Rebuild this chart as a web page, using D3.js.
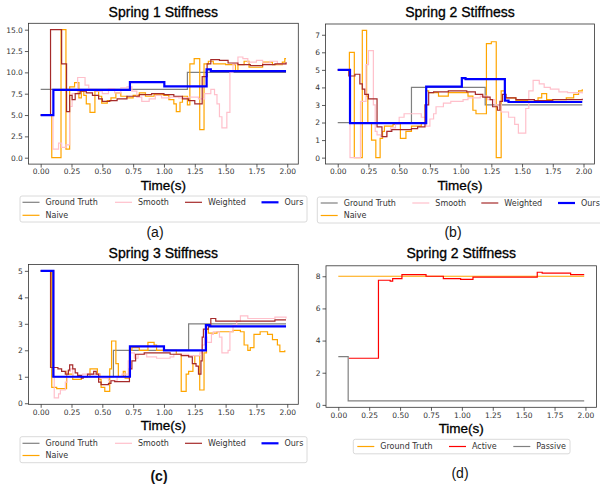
<!DOCTYPE html>
<html>
<head>
<meta charset="utf-8">
<script src="https://cdn.jsdelivr.net/npm/d3@7/dist/d3.min.js"></script>
<style>
  body { margin: 0; background: #fff; }
  text { font-family: "DejaVu Sans", sans-serif; }
</style>
</head>
<body>
<svg id="fig" width="600" height="487"></svg>
<script>

// ---- data: [time (s), stiffness] step points ----
var timeTicks = [0, 0.25, 0.5, 0.75, 1.0, 1.25, 1.5, 1.75, 2.0];

// Spring 1
var s1GT = [[0,8],[1.19,10],[1.99,10]];
var s1Naive = [[0,5],[0.09,0],[0.165,15],[0.205,1.0],[0.235,8.3],[0.275,8.8],[0.31,7.0],[0.33,7.8],[0.35,7.3],
  [0.37,6.3],[0.4,5.3],[0.44,7.8],[0.47,7.2],[0.495,6.4],[0.54,6.7],[0.57,7.0],[0.61,7.6],[0.65,7.2],[0.7,7.0],
  [0.75,7.3],[0.8,7.6],[0.85,7.2],[0.92,7.4],[1.0,7.3],[1.04,6.8],[1.08,6.3],[1.1,5.4],[1.13,6.5],[1.15,7.2],
  [1.19,6.2],[1.21,11.0],[1.245,11.6],[1.29,3.3],[1.325,11.0],[1.36,11.3],[1.4,11.0],[1.5,10.9],[1.58,10.2],
  [1.6,10.9],[1.65,11.3],[1.69,10.6],[1.8,11.2],[1.88,10.9],[1.96,11.2],[1.98,11.6],[1.99,11.6]];
var s1Smooth = [[0,5],[0.1,1.0],[0.145,1.7],[0.17,1.2],[0.205,1.5],[0.235,6.0],[0.255,7.5],[0.3,9.4],[0.36,8.5],
  [0.39,8.0],[0.45,7.8],[0.5,7.5],[0.55,8.1],[0.6,7.6],[0.65,8.2],[0.7,8.3],[0.74,7.8],[0.78,7.1],[0.82,6.6],
  [0.88,6.9],[0.93,7.3],[0.98,7.0],[1.05,7.1],[1.12,7.0],[1.2,7.1],[1.28,6.9],[1.33,7.5],[1.38,8.0],[1.41,7.4],
  [1.43,6.3],[1.45,4.8],[1.47,3.5],[1.51,5.3],[1.535,10.0],[1.56,11.0],[1.6,11.8],[1.64,11.6],[1.68,11.2],
  [1.75,11.4],[1.8,11.1],[1.86,11.3],[1.92,11.0],[1.99,11.2]];
var s1Weighted = [[0,5],[0.08,15],[0.17,11.0],[0.21,5.4],[0.235,7.3],[0.255,6.8],[0.28,7.5],[0.32,7.8],[0.37,7.6],
  [0.42,7.3],[0.47,6.9],[0.5,6.6],[0.56,6.7],[0.62,6.9],[0.7,7.2],[0.8,7.4],[0.9,7.5],[1.0,7.4],[1.08,7.2],
  [1.15,6.9],[1.2,6.7],[1.25,6.3],[1.31,9.5],[1.35,11.0],[1.38,11.5],[1.45,11.4],[1.52,11.1],[1.6,10.9],
  [1.7,10.8],[1.8,10.9],[1.9,11.0],[1.99,11.2]];
var s1Ours = [[0,5],[0.103,7.95],[0.724,8.85],[1.003,8.35],[1.346,10.35],[1.38,10.15],[1.99,10.15]];

// Spring 2
var s2GT = [[0,2],[0.6,4],[1.2,3],[1.99,3]];
var s2Naive = [[0,5],[0.095,6.0],[0.135,0],[0.2,7.25],[0.235,3.5],[0.245,2.0],[0.275,1.0],[0.31,0],[0.345,1.1],
  [0.365,1.5],[0.38,1.8],[0.45,1.9],[0.51,1.1],[0.555,1.5],[0.6,1.8],[0.68,1.95],[0.72,3.8],[0.74,3.7],[0.82,3.5],
  [0.9,3.7],[1.06,3.5],[1.1,2.7],[1.125,2.5],[1.21,6.5],[1.25,6.6],[1.29,0],[1.33,3.8],[1.36,3.4],[1.45,3.25],
  [1.55,3.2],[1.63,3.4],[1.66,3.65],[1.7,3.3],[1.86,3.4],[1.92,3.6],[1.96,3.8],[1.99,3.9]];
var s2Smooth = [[0,5],[0.1,0],[0.185,3.2],[0.23,5.3],[0.25,6.1],[0.29,3.0],[0.305,1.5],[0.32,1.3],[0.35,1.2],
  [0.4,1.5],[0.43,1.7],[0.47,1.9],[0.5,2.3],[0.54,2.5],[0.68,2.3],[0.72,1.8],[0.75,2.2],[0.78,2.5],[0.8,2.9],
  [0.86,3.1],[0.92,3.2],[1.02,3.3],[1.06,3.4],[1.16,3.5],[1.22,3.3],[1.28,3.0],[1.33,2.6],[1.39,2.3],[1.44,1.9],
  [1.47,1.4],[1.53,2.8],[1.555,3.8],[1.59,4.4],[1.64,4.2],[1.68,4.0],[1.73,3.9],[1.8,3.75],[1.87,3.7],[1.99,3.65]];
var s2Weighted = [[0,5],[0.09,4.65],[0.14,4.75],[0.18,4.2],[0.2,3.9],[0.22,3.6],[0.25,3.35],[0.32,1.75],[0.36,1.2],
  [0.4,1.5],[0.44,1.6],[0.6,1.65],[0.65,1.75],[0.71,3.0],[0.74,3.7],[0.78,3.75],[0.9,3.8],[1.05,3.75],[1.12,3.6],
  [1.18,3.45],[1.24,3.3],[1.26,2.9],[1.3,2.7],[1.32,3.2],[1.34,3.6],[1.37,3.4],[1.45,3.3],[1.6,3.25],[1.75,3.3],
  [1.9,3.3],[1.99,3.35]];
var s2Ours = [[0,5],[0.1,1.97],[0.72,4.05],[1.01,4.53],[1.04,4.47],[1.36,3.25],[1.39,3.17],[1.99,3.17]];

// Spring 3
var s3GT = [[0,5],[0.09,1],[0.59,2],[1.2,3],[1.99,3]];
var s3Naive = [[0,5],[0.09,0.6],[0.13,0.55],[0.21,1.2],[0.225,1.1],[0.26,0.9],[0.33,1.0],[0.4,1.3],[0.46,1.1],
  [0.48,0.9],[0.49,0.6],[0.52,0.45],[0.56,1.3],[0.575,2.35],[0.61,1.5],[0.63,1.0],[0.67,1.2],[0.685,0.95],
  [0.72,2.0],[0.74,2.1],[0.8,2.0],[0.87,2.3],[0.92,2.2],[0.94,2.0],[1.1,1.85],[1.14,0.45],[1.18,1.1],[1.2,1.2],
  [1.235,1.5],[1.25,1.8],[1.29,0.5],[1.325,1.9],[1.345,2.8],[1.36,2.65],[1.43,2.7],[1.56,2.75],[1.62,2.7],
  [1.65,2.2],[1.68,2.0],[1.7,2.1],[1.73,2.6],[1.78,2.7],[1.84,2.6],[1.88,2.4],[1.92,2.2],[1.94,1.95],[1.98,2.0]];
var s3Smooth = [[0,5],[0.11,0.2],[0.145,0.35],[0.16,0.5],[0.2,0.8],[0.215,1.2],[0.24,1.3],[0.26,1.0],[0.34,1.1],
  [0.48,0.95],[0.55,0.85],[0.62,1.0],[0.66,1.1],[0.71,1.6],[0.725,1.9],[0.76,1.7],[0.79,1.85],[0.86,1.75],
  [0.94,1.7],[1.05,1.75],[1.08,1.85],[1.2,1.8],[1.29,1.9],[1.31,2.2],[1.33,2.5],[1.35,2.3],[1.385,2.6],[1.4,2.7],
  [1.45,2.5],[1.47,1.9],[1.52,2.0],[1.535,2.7],[1.56,2.95],[1.59,3.1],[1.62,3.3],[1.68,3.2],[1.8,3.2],[1.9,3.25],
  [1.99,3.2]];
var s3Weighted = [[0,5],[0.08,1.35],[0.14,1.3],[0.17,1.2],[0.2,1.1],[0.225,1.25],[0.235,1.45],[0.26,1.3],
  [0.28,1.15],[0.3,1.05],[0.33,0.95],[0.345,1.0],[0.38,1.1],[0.43,1.2],[0.45,1.1],[0.47,0.8],[0.49,0.7],
  [0.55,0.75],[0.57,0.85],[0.6,0.82],[0.72,1.3],[0.74,1.6],[0.77,1.85],[0.84,1.9],[1.0,1.9],[1.05,1.85],
  [1.14,1.8],[1.2,1.75],[1.23,1.5],[1.26,1.4],[1.28,1.1],[1.3,1.6],[1.31,2.5],[1.32,2.8],[1.36,2.9],[1.38,3.2],
  [1.42,3.1],[1.6,3.1],[1.75,3.1],[1.9,3.15],[1.99,3.15]];
var s3Ours = [[0,5],[0.103,1],[0.724,2.15],[1.0,2.0],[1.34,2.95],[1.37,2.9],[1.99,2.9]];

// Spring 2, active vs passive
var dGT = [[0,8],[1.99,8]];
var dActive = [[0.085,2.9],[0.325,7.75],[0.42,7.7],[0.44,7.85],[0.515,8.1],[0.71,8.0],[0.85,7.85],[0.99,7.8],
  [1.09,7.95],[1.61,8.25],[1.65,8.2],[1.88,8.1],[1.99,8.1]];
var dPassive = [[0,3],[0.08,0.25],[1.99,0.25]];

var methodNames = ["Ground Truth", "Naive", "Smooth", "Weighted", "Ours"];
var methodColors = ["#808080", "#ffa500", "#ffc0cb", "#a52a2a", "#0000ff"];
var methodWidths = [1.2, 1.2, 1.2, 1.2, 2.2];
// matplotlib ncol=4 with 5 entries -> column-major slots
var methodSlots = [[0,0],[0,1],[1,0],[2,0],[3,0]];

function methodSeries(list) {
    return list.map(function(d, i) {
        return {name: methodNames[i], data: d, color: methodColors[i], width: methodWidths[i], slot: methodSlots[i]};
    });
}

var panels = [
    {title: "Spring 1 Stiffness", label: "(a)", box: [28.4, 298.3, 23.3, 164.1],
     yTicks: d3.range(0, 15.01, 2.5), yFmt: d3.format(".1f"),
     series: methodSeries([s1GT, s1Naive, s1Smooth, s1Weighted, s1Ours]),
     titleY: 17, xlabY: 189.5, labX: 155, labY: 237, labBold: false,
     legend: {x: 20, y: 196, w: 287, h: 26, cols: [2.5, 95, 165, 241.5], rows: [202.3, 215.3]}},
    {title: "Spring 2 Stiffness", label: "(b)", box: [325.5, 594.5, 24, 164],
     yTicks: d3.range(0, 7.01, 1), yFmt: d3.format("d"),
     series: methodSeries([s2GT, s2Naive, s2Smooth, s2Weighted, s2Ours]),
     titleY: 17, xlabY: 189.5, labX: 453, labY: 237, labBold: false,
     legend: {x: 317.3, y: 197, w: 287, h: 26, cols: [3.4, 95, 164, 240.7], rows: [203, 215.5]}},
    {title: "Spring 3 Stiffness", label: "(c)", box: [28.4, 298.3, 264.5, 404.3],
     yTicks: d3.range(0, 5.01, 1), yFmt: d3.format("d"),
     series: methodSeries([s3GT, s3Naive, s3Smooth, s3Weighted, s3Ours]),
     titleY: 257.5, xlabY: 430, labX: 159, labY: 481, labBold: true,
     legend: {x: 20, y: 436.7, w: 287, h: 26, cols: [2.5, 95, 165, 241.5], rows: [443.3, 455.5]}},
    {title: "Spring 2 Stiffness", label: "(d)", box: [326, 596.5, 265.8, 407.3],
     yTicks: d3.range(0, 8.01, 2), yFmt: d3.format("d"),
     series: [
        {name: "Ground Truth", data: dGT, color: "#ffa500", width: 1.2, slot: [0,0]},
        {name: "Active", data: dActive, color: "#ff0000", width: 1.2, slot: [1,0]},
        {name: "Passive", data: dPassive, color: "#808080", width: 1.2, slot: [2,0]}],
     titleY: 257.5, xlabY: 433, labX: 460, labY: 478, labBold: false,
     legend: {x: 353.3, y: 439.3, w: 216.7, h: 14.5, cols: [4, 95.7, 160], rows: [446.5]}}
];

var svg = d3.select("#fig");

function drawPanel(p) {
    var g = svg.append("g");
    var all = [];
    p.series.forEach(function(s) { all = all.concat(s.data); });

    // matplotlib style 5% margins
    var xe = d3.extent(all, function(d) { return d[0]; });
    var ye = d3.extent(all, function(d) { return d[1]; });
    var xp = (xe[1] - xe[0]) * 0.05, yp = (ye[1] - ye[0]) * 0.05;

    var x = d3.scaleLinear().domain([xe[0] - xp, xe[1] + xp]).range([p.box[0], p.box[1]]);
    var y = d3.scaleLinear().domain([ye[0] - yp, ye[1] + yp]).range([p.box[3], p.box[2]]);

    var line = d3.line()
        .x(function(d) { return x(d[0]); })
        .y(function(d) { return y(d[1]); })
        .curve(d3.curveStepAfter);

    p.series.forEach(function(s) {
        g.append("path")
            .attr("d", line(s.data))
            .attr("fill", "none")
            .attr("stroke", s.color)
            .attr("stroke-width", s.width);
    });

    // axes
    var xAxis = d3.axisBottom(x).tickValues(timeTicks).tickFormat(d3.format(".2f")).tickSize(3.5).tickPadding(1.5);
    var yAxis = d3.axisLeft(y).tickValues(p.yTicks).tickFormat(p.yFmt).tickSize(3.5).tickPadding(2);

    var gx = g.append("g").attr("transform", "translate(0," + p.box[3] + ")").call(xAxis);
    var gy = g.append("g").attr("transform", "translate(" + p.box[0] + ",0)").call(yAxis);
    [gx, gy].forEach(function(a) {
        a.select(".domain").remove();
        a.selectAll("line").attr("stroke", "#333").attr("stroke-width", 0.8);
        a.selectAll("text").attr("fill", "#333").style("font-size", "7.5px").style("font-family", "DejaVu Sans");
    });

    g.append("rect")
        .attr("x", p.box[0]).attr("y", p.box[2])
        .attr("width", p.box[1] - p.box[0]).attr("height", p.box[3] - p.box[2])
        .attr("fill", "none").attr("stroke", "#333").attr("stroke-width", 0.8);

    var cx = (p.box[0] + p.box[1]) / 2;
    g.append("text").attr("x", cx).attr("y", p.titleY)
        .attr("text-anchor", "middle")
        .style("font-family", "Liberation Sans").style("font-size", "14px")
        .attr("fill", "#000").attr("stroke", "#000").attr("stroke-width", 0.3)
        .text(p.title);

    g.append("text").attr("x", cx).attr("y", p.xlabY)
        .attr("text-anchor", "middle")
        .style("font-family", "Liberation Sans").style("font-size", "13.5px")
        .attr("fill", "#000").attr("stroke", "#000").attr("stroke-width", 0.3)
        .text("Time(s)");

    g.append("text").attr("x", p.labX).attr("y", p.labY)
        .attr("text-anchor", "middle")
        .style("font-family", "Liberation Sans").style("font-size", "14px")
        .style("font-weight", p.labBold ? "bold" : "normal")
        .attr("fill", "#111").text(p.label);

    // legend
    var L = p.legend;
    g.append("rect")
        .attr("x", L.x).attr("y", L.y).attr("width", L.w).attr("height", L.h)
        .attr("rx", 2).attr("fill", "#fff").attr("stroke", "#d0d0d0").attr("stroke-width", 0.8);

    p.series.forEach(function(s) {
        var lx = L.x + L.cols[s.slot[0]];
        var ly = L.rows[s.slot[1]];
        g.append("line")
            .attr("x1", lx).attr("x2", lx + 17).attr("y1", ly).attr("y2", ly)
            .attr("stroke", s.color).attr("stroke-width", s.width);
        g.append("text")
            .attr("x", lx + 23).attr("y", ly).attr("dy", "0.35em")
            .style("font-size", "8px").attr("fill", "#333")
            .text(s.name);
    });
}

panels.forEach(drawPanel);

</script>
</body>
</html>
